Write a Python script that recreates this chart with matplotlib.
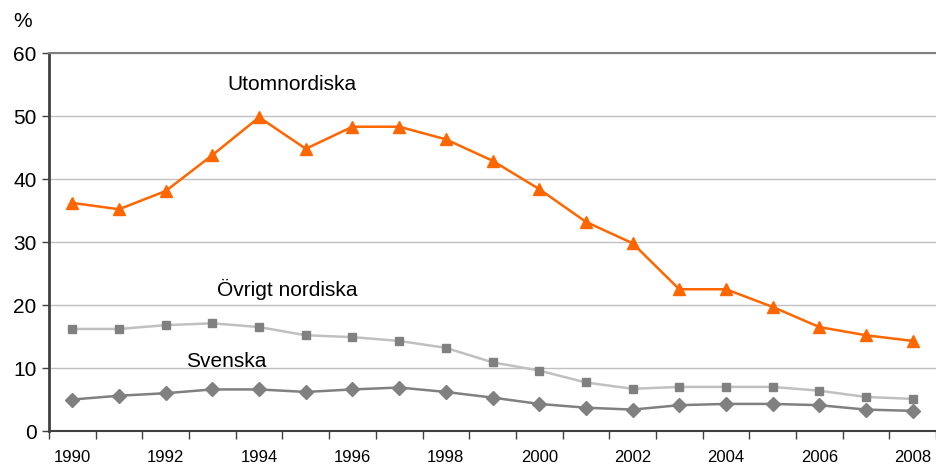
import numpy as np
import matplotlib.pyplot as plt

plt.rcParams['font.family'] = ['Liberation Sans', 'DejaVu Sans']

years = list(range(1990, 2009))
utomnordiska = [36.2, 35.2, 38.1, 43.8, 49.8, 44.8, 48.3, 48.3, 46.3, 42.9,
                38.4, 33.2, 29.8, 22.5, 22.5, 19.7, 16.5, 15.2, 14.3]
ovrigt_nordiska = [16.2, 16.2, 16.8, 17.1, 16.5, 15.2, 14.9, 14.3, 13.2, 10.9,
                   9.6, 7.7, 6.7, 7.0, 7.0, 7.0, 6.4, 5.4, 5.1]
svenska = [5.0, 5.6, 6.0, 6.6, 6.6, 6.2, 6.6, 6.9, 6.2, 5.3,
           4.3, 3.7, 3.4, 4.1, 4.3, 4.3, 4.1, 3.4, 3.2]

x = np.arange(len(years))

fig = plt.figure(figsize=(9.36, 4.65), dpi=100)
ax = fig.add_axes([0.0524, 0.0731, 0.9476, 0.8129])

ax.plot(x, utomnordiska, color='#FF6600', lw=1.8, marker='^', ms=8, zorder=3)
ax.plot(x, ovrigt_nordiska, color='#C0C0C0', lw=1.8, marker='s', ms=6,
        mfc='#808080', mec='#808080', zorder=3)
ax.plot(x, svenska, color='#808080', lw=1.8, marker='D', ms=7,
        mfc='#808080', mec='#808080', zorder=3)

ax.set_xlim(-0.5, len(years) - 0.5)
ax.set_ylim(0, 60)
ax.set_yticks(range(0, 61, 10))
ax.yaxis.grid(True, color='#C0C0C0', lw=1)
ax.set_axisbelow(True)

# category boundaries as ticks, labels every other year
ax.set_xticks(np.arange(-0.5, len(years), 1.0))
ax.set_xticklabels([])
ax.set_xticks(x[::2], minor=True)
ax.set_xticklabels([str(y) for y in years[::2]], minor=True, fontsize=12)
ax.tick_params(axis='x', which='major', length=6, width=1, color='#404040')
ax.tick_params(axis='x', which='minor', length=0, pad=14)
ax.tick_params(axis='y', length=5, width=1, color='#404040', labelsize=15, pad=4)

ax.spines['right'].set_visible(False)
ax.spines['top'].set_color('#808080')
ax.spines['top'].set_linewidth(1.5)
ax.spines['left'].set_color('#404040')
ax.spines['left'].set_linewidth(2)
ax.spines['bottom'].set_color('#404040')
ax.spines['bottom'].set_linewidth(1.5)

ax.text(4.7, 55, 'Utomnordiska', fontsize=15, ha='center', va='center')
ax.text(4.6, 22.5, 'Övrigt nordiska', fontsize=15, ha='center', va='center')
ax.text(3.3, 11.0, 'Svenska', fontsize=15, ha='center', va='center')
fig.text(0.024, 0.953, '%', fontsize=15, ha='center', va='center')

fig.savefig('out.png', dpi=100)
